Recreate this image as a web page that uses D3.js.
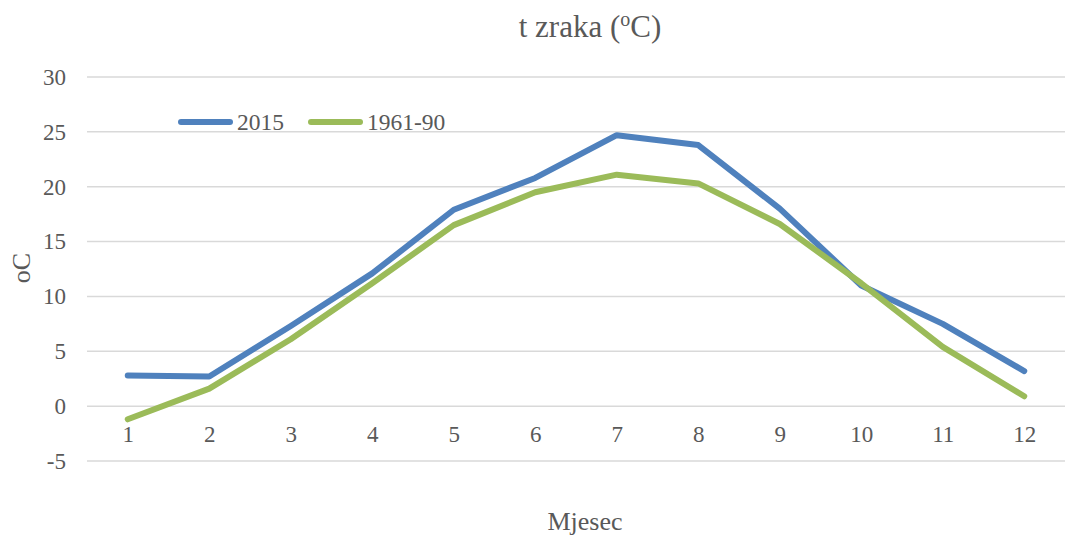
<!DOCTYPE html>
<html>
<head>
<meta charset="utf-8">
<script src="https://cdn.jsdelivr.net/npm/d3@7"></script>
<style>
  body { margin: 0; background: #fff; }
  svg text { font-family: "Liberation Serif", "Times New Roman", "DejaVu Serif", serif !important; fill: #595959; }
</style>
</head>
<body>
<div id="chart"></div>
<script>
// data
var months = ["1", "2", "3", "4", "5", "6", "7", "8", "9", "10", "11", "12"];
var t2015 = [2.8, 2.7, 7.3, 12.1, 17.9, 20.8, 24.7, 23.8, 18.0, 11.0, 7.5, 3.2];
var t1961 = [-1.2, 1.6, 6.1, 11.2, 16.5, 19.5, 21.1, 20.3, 16.6, 11.2, 5.4, 0.9];
var yTicks = [-5, 0, 5, 10, 15, 20, 25, 30];

var series = [
  { name: "2015", values: t2015, color: "#4f81bd" },
  { name: "1961-90", values: t1961, color: "#9bbb59" }
];

var svgWidth = 1065, svgHeight = 535;
var margin = { top: 77, right: 0, bottom: 74, left: 87 };
var chartWidth = svgWidth - margin.left - margin.right;
var chartHeight = svgHeight - margin.top - margin.bottom;

var svg = d3.select("#chart").append("svg")
  .attr("width", svgWidth)
  .attr("height", svgHeight);

var chartGroup = svg.append("g")
  .attr("transform", `translate(${margin.left}, ${margin.top})`);

var xScale = d3.scalePoint()
  .domain(months)
  .range([0, chartWidth])
  .padding(0.5);

var yScale = d3.scaleLinear()
  .domain([-5, 30])
  .range([chartHeight, 0]);

// gridlines
chartGroup.append("g")
  .selectAll("line")
  .data(yTicks)
  .enter()
  .append("line")
  .attr("x1", 0)
  .attr("x2", chartWidth)
  .attr("y1", d => yScale(d))
  .attr("y2", d => yScale(d))
  .attr("stroke", "#d9d9d9")
  .attr("stroke-width", 1.5);

// y axis labels (plain hyphen for negatives, like the original)
var leftAxis = d3.axisLeft(yScale)
  .tickValues(yTicks)
  .tickFormat(d => String(d))
  .tickSize(0)
  .tickPadding(21);
var yAxis = chartGroup.append("g").call(leftAxis);
yAxis.attr("font-family", null);
yAxis.select(".domain").remove();
yAxis.selectAll("text").attr("font-size", "23px");

// x axis labels sit just under the zero line
var bottomAxis = d3.axisBottom(xScale).tickSize(0).tickPadding(20);
var xAxis = chartGroup.append("g")
  .attr("transform", `translate(0, ${yScale(0)})`)
  .call(bottomAxis);
xAxis.attr("font-family", null);
xAxis.select(".domain").remove();
xAxis.selectAll("text").attr("font-size", "23px");

// lines
var line = d3.line()
  .x((d, i) => xScale(months[i]))
  .y(d => yScale(d));

chartGroup.selectAll(".series")
  .data(series)
  .enter()
  .append("path")
  .attr("class", "series")
  .attr("d", d => line(d.values))
  .attr("fill", "none")
  .attr("stroke", d => d.color)
  .attr("stroke-width", 6)
  .attr("stroke-linejoin", "round")
  .attr("stroke-linecap", "round");

// legend
var legend = svg.append("g").attr("transform", "translate(181, 122)");
var legendX = [0, 130];
series.forEach(function(s, i) {
  var g = legend.append("g").attr("transform", `translate(${legendX[i]}, 0)`);
  g.append("line")
    .attr("x1", 0).attr("x2", 49)
    .attr("y1", 0).attr("y2", 0)
    .attr("stroke", s.color)
    .attr("stroke-width", 6)
    .attr("stroke-linecap", "round");
  g.append("text")
    .attr("x", 56)
    .attr("y", 8)
    .attr("font-size", "23.5px")
    .text(s.name);
});

// title
var title = svg.append("text")
  .attr("x", 590)
  .attr("y", 37)
  .attr("text-anchor", "middle")
  .attr("font-size", "31px");
title.append("tspan").text("t zraka (");
title.append("tspan").attr("dy", -11).attr("font-size", "20px").text("o");
title.append("tspan").attr("dy", 11).text("C)");

// axis titles
svg.append("text")
  .attr("transform", "rotate(-90)")
  .attr("x", -268)
  .attr("y", 30)
  .attr("text-anchor", "middle")
  .attr("font-size", "26px")
  .text("oC");

svg.append("text")
  .attr("x", 585)
  .attr("y", 530)
  .attr("text-anchor", "middle")
  .attr("font-size", "26px")
  .text("Mjesec");
</script>
</body>
</html>
